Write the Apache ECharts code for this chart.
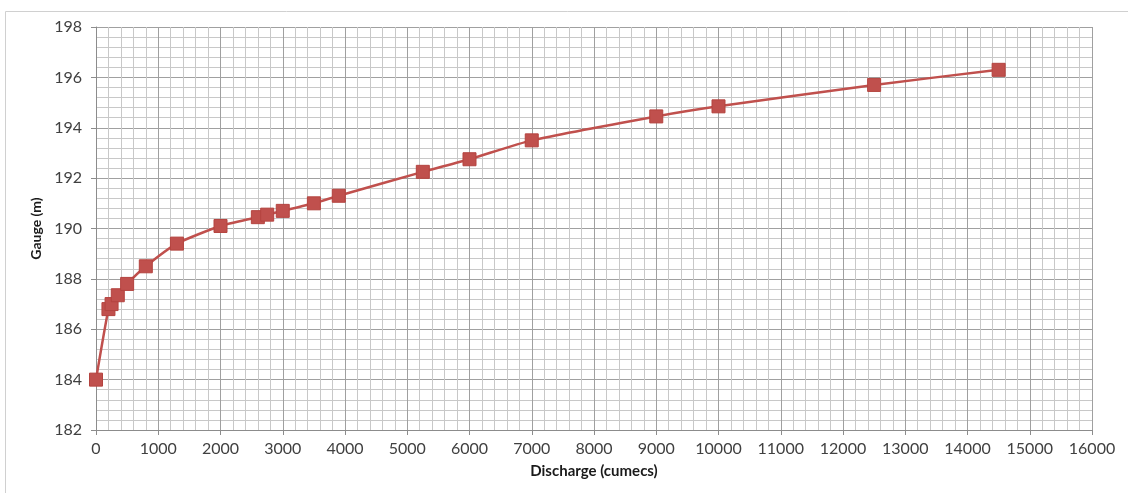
<!DOCTYPE html>
<html>
<head>
<meta charset="utf-8">
<script src="https://cdn.jsdelivr.net/npm/echarts@6/dist/echarts.min.js"></script>
<style>
  html, body { margin: 0; padding: 0; background: #ffffff; }
  #chart { width: 1128px; height: 493px; }
</style>
</head>
<body>
<div id="chart"></div>
<script>
// Stage–discharge rating curve: discharge (cumecs) vs gauge level (m)
const discharge = [0, 200, 250, 350, 500, 800, 1300, 2000, 2600, 2750, 3000, 3500, 3900, 5250, 6000, 7000, 9000, 10000, 12500, 14500];
const gauge     = [184.0, 186.8, 187.0, 187.35, 187.8, 188.5, 189.4, 190.1, 190.45, 190.55, 190.7, 191.0, 191.3, 192.25, 192.75, 193.5, 194.45, 194.85, 195.7, 196.3];

const xTicks = { min: 0, max: 16000, interval: 1000 };
const yTicks = { min: 182, max: 198, interval: 2 };

const xAxisTitle = 'Discharge (cumecs)';
const yAxisTitle = 'Gauge (m)';

const points = discharge.map((q, i) => [q, gauge[i]]);

const tickFont = { fontFamily: 'Lato, "Open Sans", sans-serif', fontSize: 16, color: '#404040' };
const titleFont = { fontFamily: 'Lato, "Liberation Sans", sans-serif', fontWeight: 'bold', color: '#1a1a1a' };

const chart = echarts.init(document.getElementById('chart'), null, { renderer: 'canvas' });

chart.setOption({
  backgroundColor: '#ffffff',
  animation: false,
  graphic: [
    {
      type: 'rect',
      shape: { x: 5.5, y: 11.5, width: 1140, height: 500 },
      style: { fill: 'none', stroke: '#d0d0d0', lineWidth: 1 },
      silent: true,
      z: -1
    }
  ],
  grid: { left: 96, right: 36, top: 27, bottom: 63, containLabel: false },
  xAxis: {
    type: 'value',
    min: xTicks.min, max: xTicks.max, interval: xTicks.interval,
    name: xAxisTitle,
    nameLocation: 'middle',
    nameGap: 34,
    nameTextStyle: Object.assign({ fontSize: 15 }, titleFont),
    axisLine: { show: true, onZero: false, lineStyle: { color: '#8c8c8c', width: 1 } },
    axisTick: { show: true, length: 5, lineStyle: { color: '#8c8c8c' } },
    axisLabel: Object.assign({ margin: 11, formatter: v => String(v) }, tickFont),
    splitLine: { show: true, lineStyle: { color: '#a0a0a0', width: 1 } },
    minorTick: { show: false, splitNumber: 5 },
    minorSplitLine: { show: true, lineStyle: { color: '#c8c8c8', width: 1 } }
  },
  yAxis: {
    type: 'value',
    min: yTicks.min, max: yTicks.max, interval: yTicks.interval,
    name: yAxisTitle,
    nameLocation: 'middle',
    nameGap: 51,
    nameRotate: 90,
    nameTextStyle: Object.assign({ fontSize: 14 }, titleFont),
    axisLine: { show: true, lineStyle: { color: '#8c8c8c', width: 1 } },
    axisTick: { show: true, length: 5, lineStyle: { color: '#8c8c8c' } },
    axisLabel: Object.assign({ margin: 14, formatter: v => String(v) }, tickFont),
    splitLine: { show: true, lineStyle: { color: '#a0a0a0', width: 1 } },
    minorTick: { show: false, splitNumber: 5 },
    minorSplitLine: { show: true, lineStyle: { color: '#c8c8c8', width: 1 } }
  },
  series: [
    {
      type: 'line',
      data: points,
      smooth: 0.2,
      symbol: 'rect',
      symbolSize: 13,
      showAllSymbol: true,
      lineStyle: { color: '#c0504d', width: 2.5 },
      itemStyle: { color: '#c0504d', borderColor: '#b4433f', borderWidth: 1 }
    }
  ]
});
</script>
</body>
</html>
